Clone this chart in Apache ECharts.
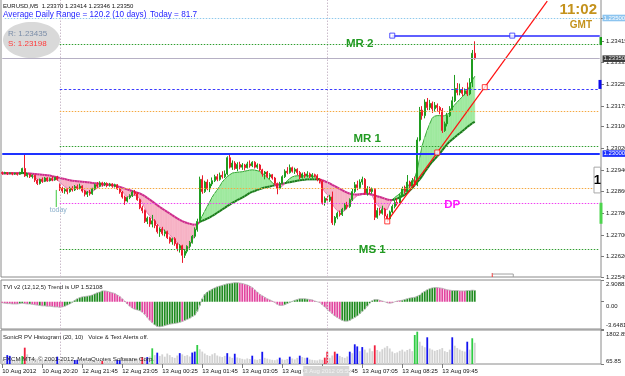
<!DOCTYPE html>
<html>
<head>
<meta charset="utf-8">
<script src="https://cdn.jsdelivr.net/npm/echarts@6/dist/echarts.min.js"></script>
<style>
html,body{margin:0;padding:0;background:#ffffff;}
#chart{width:625px;height:376px;}
</style>
</head>
<body>
<div id="chart"></div>
<script>
// ---------------- data (prices in points above 1.22000) ----------------
const barOpen = [
930,927,930,926,929,925,928,924,930,945, 918,924,915,920,902,890,905,898,910,900,
908,903,912,885,872,862,868,860,872,866, 878,873,880,862,850,858,852,870,885,880,
892,886,890,882,888,880,885,870,858,840, 825,838,845,858,852,830,800,790,750,762,
740,752,735,712,722,705,712,690,675,686, 668,650,660,625,640,658,672,695,720,750,
905,860,895,870,888,900,915,905,920,915, 925,985,950,965,945,960,950,958,948,962,
955,968,950,958,940,925,932,915,922,910, 890,872,890,915,935,930,948,935,942,930,
912,925,918,925,915,922,918,905,898,820, 835,828,840,745,765,780,775,795,810,805,
830,860,885,875,895,905,855,870,860,868, 765,790,780,795,770,760,785,805,820,815,
845,870,860,895,880,900,885,1050,1160,1140, 1190,1170,1185,1165,1178,1170,1160,1085,1110,1140,
1165,1195,1240,1225,1235,1222,1232,1220,1262,1370];
const barClose = [
927,930,926,929,925,928,924,930,945,918, 924,915,920,902,890,905,898,910,900,908,
903,912,905,872,862,868,860,872,866,878, 873,880,862,850,858,852,870,885,880,892,
886,890,882,888,880,885,870,858,840,825, 838,845,858,852,830,800,790,750,762,740,
752,735,712,722,705,712,690,675,686,668, 650,660,625,640,658,672,695,720,750,905,
860,895,870,888,900,915,905,920,915,925, 985,950,965,945,960,950,958,948,962,955,
968,950,958,940,925,932,915,922,910,890, 872,890,915,935,930,948,935,942,930,912,
925,918,925,915,922,918,905,898,820,835, 828,840,745,765,780,775,795,810,805,830,
860,885,875,895,905,855,870,860,868,765, 790,780,795,770,760,785,805,820,815,845,
870,860,895,880,900,885,1050,1160,1140,1190, 1170,1185,1165,1178,1170,1160,1085,1110,1140,1165,
1195,1240,1225,1235,1222,1232,1220,1262,1370,1350];
const barLow = [
922,924,921,924,920,922,919,922,928,914, 912,910,908,895,884,886,892,895,896,897,
898,900,900,862,855,852,850,856,860,862, 866,868,856,842,840,845,848,866,874,876,
878,880,876,878,874,875,866,852,834,811, 820,832,840,846,826,795,780,744,740,730,
728,725,705,693,698,695,685,668,664,660, 640,635,597,615,632,650,668,688,712,745,
852,855,865,858,880,895,898,900,908,910, 920,945,940,940,935,942,940,938,945,948,
950,945,944,935,915,905,910,905,904,885, 850,868,886,910,924,926,930,925,920,905,
908,910,912,910,908,912,898,890,812,808, 820,822,737,735,758,768,770,790,795,800,
825,855,865,870,885,848,845,850,852,755, 760,772,775,760,748,755,780,798,808,812,
840,852,855,872,870,878,880,1045,1125,1130, 1160,1160,1150,1155,1155,1145,1076,1080,1100,1135,
1160,1190,1215,1215,1212,1215,1212,1215,1245,1346];
const barHigh = [
934,933,932,931,931,930,930,933,948,995, 928,927,923,922,906,908,912,914,913,912,
916,915,918,890,878,874,872,878,880,884, 886,889,883,866,862,866,874,890,895,898,
896,895,894,892,891,889,888,873,862,845, 842,850,864,866,858,834,808,794,768,766,
774,758,740,728,730,720,716,694,690,692, 672,666,664,648,662,678,700,728,760,915,
920,900,905,895,912,922,925,930,935,938, 990,998,975,972,968,970,965,962,970,975,
972,972,964,962,944,936,936,928,925,914, 893,896,920,942,950,960,952,948,946,936,
930,932,935,930,928,926,924,910,902,842, 845,848,860,770,786,790,800,818,822,835,
870,895,900,905,915,910,880,878,875,872, 800,800,808,800,778,790,812,828,835,852,
878,882,921,900,910,915,1060,1172,1175,1200, 1205,1198,1192,1190,1185,1175,1168,1118,1150,1175,
1210,1290,1260,1258,1245,1240,1262,1278,1382,1414];

const maSlow = [
928,928,928,928,928,928,928,928,928,928, 927,927,926,925,924,923,922,921,920,919,
917,915,913,910,908,906,904,902,900,899, 898,897,896,895,894,893,892,891,890,889,
888,887,886,885,884,882,880,877,874,871, 868,865,862,859,856,853,849,843,837,830,
824,817,810,803,797,791,785,779,773,767, 761,756,751,747,744,741,739,738,740,748,
752,756,760,765,770,776,782,788,794,800, 806,812,818,823,828,833,838,843,849,855,
859,862,866,869,872,875,877,879,881,883, 885,887,889,891,893,894,896,898,900,902,
903,904,905,905,905,905,905,905,902,898, 894,890,885,880,875,870,865,860,856,852,
850,849,849,850,851,852,852,851,849,846, 843,840,837,834,831,829,829,831,834,838,
843,848,855,864,873,885,895,905,918,932, 945,958,970,980,990,1000,1012,1024,1035,1045,
1052,1060,1068,1075,1082,1090,1098,1105,1112,1117];
const maFast = [
925,924,925,924,925,924,924,926,930,930, 926,922,918,912,906,900,898,899,900,901,
902,904,904,895,886,878,872,870,870,871, 872,872,870,864,858,857,860,866,873,879,
882,884,885,884,883,881,878,872,862,850, 840,842,845,846,843,835,820,800,782,770,
760,750,740,730,722,716,710,700,690,681, 672,662,650,645,646,660,680,705,735,752,
770,788,805,822,840,854,866,880,895,906, 915,922,928,930,931,932,933,935,937,939,
940,939,937,934,928,920,912,902,893,885, 875,874,880,890,900,908,914,917,918,918,
918,918,918,918,918,915,912,902,878,858, 850,838,815,800,790,786,785,790,800,815,
828,838,845,847,849,850,850,848,845,825, 812,802,797,795,793,815,830,838,845,852,
862,872,882,885,890,910,940,985,1030,1060, 1087,1110,1131,1138,1140,1140,1138,1140,1145,1150,
1168,1180,1190,1200,1209,1220,1230,1250,1271,1285];

const tviValues = [
-0.15,-0.2,-0.25,-0.25,-0.3,-0.3,-0.3,-0.25,-0.2,-0.25,
-0.3,-0.3,-0.35,-0.4,-0.45,-0.5,-0.55,-0.55,-0.6,-0.6,
-0.65,-0.7,-0.7,-0.75,-0.7,-0.6,-0.45,-0.3,-0.1,0.2,
0.4,0.55,0.65,0.7,0.75,0.8,0.9,1.05,1.2,1.3,
1.45,1.45,1.4,1.3,1.2,1.1,0.9,0.7,0.4,0.1,
-0.3,-0.6,-0.85,-1.0,-1.1,-1.2,-1.4,-1.7,-2.1,-2.5,
-2.8,-3.1,-3.3,-3.35,-3.3,-3.2,-3.1,-3.0,-2.95,-2.9,
-2.85,-2.75,-2.65,-2.5,-2.35,-2.2,-2.0,-1.8,-1.3,-0.5,
0.4,1.0,1.3,1.5,1.7,1.85,2.0,2.1,2.2,2.3,
2.4,2.45,2.5,2.55,2.55,2.5,2.45,2.35,2.25,2.1,
1.9,1.6,1.3,1.0,0.8,0.6,0.4,0.25,0.1,-0.1,
-0.35,-0.5,-0.5,-0.4,-0.25,-0.1,0.05,0.2,0.3,0.4,
0.4,0.4,0.35,0.3,0.25,0.1,0.0,-0.1,-0.4,-0.7,
-1.0,-1.3,-1.6,-1.9,-2.1,-2.3,-2.5,-2.6,-2.6,-2.5,
-2.3,-2.1,-1.9,-1.6,-1.3,-1.0,-0.6,-0.2,0.15,0.3,
0.3,0.2,0.1,0.0,-0.15,-0.2,-0.15,0.0,0.1,0.15,
0.2,0.3,0.4,0.5,0.55,0.6,0.75,0.9,1.2,1.4,
1.6,1.75,1.85,1.9,1.9,1.85,1.8,1.7,1.6,1.55,
1.5,1.5,1.5,1.45,1.45,1.45,1.5,1.5,1.55,1.52108];
const tviTrend = ('PPPPPPPGGPPGPPPGPGPPPPPPP' + 'GGGGGGGGGGGGGGGG' + 'PPPPPPPPPPPPP' + 'GG' + 'PPPPP' +
  'GGGGGGGGGGG' + 'P' + 'GGGGGGGGGGGGGGGGGGGGGG' + 'PPPPPPPPPPPPPPPPPP' + 'GGGGGGGGGG' +
  'PPPPPPPPPPPPP' + 'GGGGGGGGGGGGGGG' + 'PPPPPPPPP' + 'GGGGGGGGGGGGGG' + 'PPPPPP' + 'GGG' + 'PPP' + 'GGGG').split('');

const volumes = [
300,250,520,480,300,260,280,350,475,900, 560,420,300,360,330,250,280,300,240,260,
300,280,440,250,220,200,240,210,230,270, 280,220,240,260,200,220,250,230,210,240,
220,200,230,250,210,240,270,260,300,330, 280,260,300,320,340,380,420,400,420,450,
867,520,645,480,560,440,600,520,420,380, 500,620,560,480,520,450,650,700,1036,820,
700,600,520,480,560,620,500,450,420,480, 620,440,380,590,400,360,330,300,350,320,
490,300,280,320,690,380,340,300,280,260, 300,390,300,280,320,440,350,300,380,490,
420,380,390,300,280,260,250,300,280,390, 695,380,500,695,590,480,420,380,450,695,
620,1072,965,720,930,800,650,860,720,1020, 780,700,820,900,980,860,700,620,660,740,
800,700,780,840,720,1547,1716,1205,1000,920, 1430,860,800,740,780,820,880,720,680,800,
1430,1000,880,800,740,700,1205,800,1380,1150];
const volumeKind = ('..BB....GR' + '..........' + '..B......B' + 'B.........' + 'R.....BB..' +
  '......R.B.' + 'G.B.......' + '.B....BBG.' + '..........' + 'B..B......' +
  'B...B.....' + '.B...B...B' + '..B......R' + 'R..RB....B' + '.BB.B....R' +
  '..........' + '.....GG...' + 'B.........' + 'B.....B.G.').split('');

const xTickLabels = ['10 Aug 2012','10 Aug 20:20','12 Aug 21:45','12 Aug 23:05','13 Aug 00:25','13 Aug 01:45',
  '13 Aug 03:05','13 Aug 04:25','13 Aug 05:45','13 Aug 07:05','13 Aug 08:25','13 Aug 09:45'];
const priceTicks = [1.22545,1.22620,1.22700,1.22780,1.22860,1.22940,1.23020,1.23100,1.23175,1.23255,1.23335,1.23415,1.23500];
const tviTicks = [-3.64815, 0, 2.908818];
const tviTickLabels = ['-3.64815', '0.00', '2.908818'];
const volTicks = [65.85, 1802.85];
const volTickLabels = ['65.85', '1802.85'];

// horizontal levels (prices)
const refLevel = 1.23500, bidLevel = 1.23350, resLevel = 1.23435, roundLevel = 1.23000;
const mr2Level = 1.23404, mr1Level = 1.23028, dpLevel = 1.22818, ms1Level = 1.22648;
const blueDashLevel = 1.23238, orangeHiLevel = 1.23155, orangeLoLevel = 1.22873;
// trend line anchors [bar index, price points]
const trendIdx = [154, 174, 193, 218];
const trendPts = [750, 1004, 1245, 1562];
const resAnchorIdx = [156, 204];
const daySeparators = [23, 130];

// ---------------- chart ----------------
const FF = '"Liberation Sans", Arial, sans-serif';
const SLOTS = 240;
const cats = Array.from({length: SLOTS}, (_, i) => String(i));
const px = v => Math.round((1.22 + v / 1e5) * 1e5) / 1e5;
const candleData = barOpen.map((o, i) => [px(o), px(barClose[i]), px(barLow[i]), px(barHigh[i])]);
const bandData = maFast.slice(0, -1).map((f, i) => [i, px(f), px(maSlow[i]), px(maFast[i + 1]), px(maSlow[i + 1])]);
const tviBars = tviValues.map((v, i) => ({value: v, itemStyle: {color: tviTrend[i] === 'G' ? '#218c21' : '#e2469f'}}));
const volColor = {'.': '#d2d2d2', 'B': '#1414f0', 'R': '#f0203e', 'G': '#30cc44'};
const volBars = volumes.map((v, i) => ({value: v, itemStyle: {color: volColor[volumeKind[i]]}}));

const chart = echarts.init(document.getElementById('chart'), null, {width: 625, height: 376});

const xAxisFor = (gi, withLabels) => ({
  type: 'category', gridIndex: gi, data: cats, boundaryGap: true,
  axisLine: {show: false}, splitLine: {show: false},
  axisTick: withLabels ? {show: true, alignWithLabel: true, length: 4,
      interval: (i) => i % 16 === 0 && i <= 176, lineStyle: {color: '#7a7a7a'}} : {show: false},
  axisLabel: withLabels ? {show: true, interval: (i) => i % 16 === 0 && i <= 176,
      formatter: (v, i) => xTickLabels[Math.round(i / 16)] || '',
      align: 'left', fontSize: 6, color: '#111', margin: 4, fontFamily: FF} : {show: false}
});

const dotted = [1.5, 1.5];
const hl = (p, a, b, color, type, width) => [
  {coord: [a, p], lineStyle: {color: color, type: type, width: width}},
  {coord: [b, p]}
];
const vSep = {
  symbol: ['none', 'none'], silent: true, animation: false, label: {show: false},
  lineStyle: {color: '#cbbccb', type: dotted, width: 1},
  data: daySeparators.map(d => ({xAxis: d}))
};

function renderBand(params, api) {
  const i = api.value(0);
  const f0 = api.value(1), s0 = api.value(2), f1 = api.value(3), s1 = api.value(4);
  const a = api.coord([i, f0]), b = api.coord([i + 1, f1]);
  const c = api.coord([i + 1, s1]), d = api.coord([i, s0]);
  const bear = f0 + f1 < s0 + s1;
  const fill = bear ? '#f7b3c6' : '#9fea9f';
  return {type: 'group', children: [
    {type: 'polygon', shape: {points: [a, b, c, d]}, style: {fill: fill, stroke: fill, lineWidth: 0.6}},
    {type: 'line', shape: {x1: a[0], y1: a[1], x2: b[0], y2: b[1]}, style: {stroke: bear ? '#e276b4' : '#3aa83a', lineWidth: 1}},
    {type: 'line', shape: {x1: d[0], y1: d[1], x2: c[0], y2: c[1]}, style: {stroke: bear ? '#cc2a8c' : '#1a7a1a', lineWidth: 2}}
  ]};
}

const gridBase = {left: 1, right: 24, show: true, borderColor: '#8a8a8a', borderWidth: 1,
  backgroundColor: 'transparent', containLabel: false, outerBoundsMode: 'none'};

chart.setOption({
  animation: false,
  backgroundColor: '#ffffff',
  grid: [
    Object.assign({}, gridBase, {top: -1, height: 278}),
    Object.assign({}, gridBase, {top: 280, height: 49}),
    Object.assign({}, gridBase, {top: 330, height: 34})
  ],
  xAxis: [xAxisFor(0, false), xAxisFor(1, false), xAxisFor(2, true)],
  yAxis: [
    {type: 'value', gridIndex: 0, position: 'right', min: 1.22545, max: 1.2357,
      splitLine: {show: false}, axisLine: {show: false},
      axisTick: {show: true, customValues: priceTicks, length: 3, lineStyle: {color: '#7a7a7a'}},
      axisLabel: {customValues: priceTicks, formatter: v => v.toFixed(5), fontSize: 6, color: '#222', margin: 5, fontFamily: FF}},
    {type: 'value', gridIndex: 1, position: 'right', min: tviTicks[0], max: tviTicks[2],
      splitLine: {show: false}, axisLine: {show: false},
      axisTick: {show: true, customValues: tviTicks, length: 3, lineStyle: {color: '#7a7a7a'}},
      axisLabel: {customValues: tviTicks, margin: 5, fontFamily: FF, fontSize: 6, color: '#222',
        formatter: v => {
          const k = tviTicks.findIndex(t => Math.abs(t - v) < 1e-6);
          return (k === 0 ? '{b|' : k === 1 ? '{z|' : '{t|') + tviTickLabels[k] + '}';
        },
        rich: {t: {padding: [8, 0, 0, 0], fontSize: 6, color: '#222', fontFamily: FF},
               z: {padding: [10, 0, 0, 0], fontSize: 6, color: '#222', fontFamily: FF},
               b: {padding: [0, 0, 8, 0], fontSize: 6, color: '#222', fontFamily: FF}}}},
    {type: 'value', gridIndex: 2, position: 'right', min: volTicks[0], max: volTicks[1],
      splitLine: {show: false}, axisLine: {show: false},
      axisTick: {show: true, customValues: volTicks, length: 3, lineStyle: {color: '#7a7a7a'}},
      axisLabel: {customValues: volTicks, margin: 5, fontFamily: FF, fontSize: 6, color: '#222',
        formatter: v => {
          const k = volTicks.findIndex(t => Math.abs(t - v) < 1e-6);
          return (k === 0 ? '{b|' : '{t|') + volTickLabels[k] + '}';
        },
        rich: {t: {padding: [8, 0, 0, 0], fontSize: 6, color: '#222', fontFamily: FF},
               b: {padding: [0, 0, 5, 0], fontSize: 6, color: '#222', fontFamily: FF}}}}
  ],
  series: [
    {type: 'custom', name: 'band', xAxisIndex: 0, yAxisIndex: 0, data: bandData, renderItem: renderBand,
      z: 1, silent: true, clip: true, encode: {x: 0, y: [1, 2]}},
    {type: 'candlestick', name: 'EURUSD', xAxisIndex: 0, yAxisIndex: 0, data: candleData, barWidth: 1.6, z: 3,
      itemStyle: {color: '#1f9c1f', color0: '#ec1a2c', borderColor: '#1f9c1f', borderColor0: '#ec1a2c', borderWidth: 1},
      markLine: {
        symbol: ['none', 'none'], silent: true, animation: false, label: {show: false},
        data: [
          {xAxis: daySeparators[0], lineStyle: {color: '#cbbccb', type: dotted, width: 1}},
          {xAxis: daySeparators[1], lineStyle: {color: '#cbbccb', type: dotted, width: 1}},
          hl(refLevel, 1, 239, '#8fc9ec', dotted, 1),
          hl(mr2Level, 23, 239, '#2f9e2f', dotted, 1),
          hl(bidLevel, 0, 239, '#b6b0c4', 'solid', 1),
          hl(blueDashLevel, 23, 239, '#3a3aff', [2.5, 2], 1),
          hl(orangeHiLevel, 23, 239, '#f5a840', dotted, 1),
          hl(mr1Level, 23, 239, '#2f9e2f', dotted, 1),
          hl(roundLevel, 0, 239, '#1e32ff', 'solid', 2),
          hl(orangeLoLevel, 23, 239, '#f5a840', dotted, 1),
          hl(dpLevel, 23, 239, '#f040f0', dotted, 1),
          hl(ms1Level, 23, 239, '#2f9e2f', dotted, 1),
          hl(resLevel, resAnchorIdx[0], 239, '#2a2aff', 'solid', 1.6)
        ]
      }},
    {type: 'line', name: 'trend', xAxisIndex: 0, yAxisIndex: 0, z: 4, symbol: 'none', silent: true,
      data: [[trendIdx[0], px(trendPts[0])], [trendIdx[3], px(trendPts[3])]],
      lineStyle: {color: '#ff1010', width: 1.2}},
    {type: 'scatter', name: 'trendAnchors', xAxisIndex: 0, yAxisIndex: 0, z: 5, silent: true,
      symbol: 'rect', symbolSize: 5,
      data: trendIdx.slice(0, 3).map((t, k) => [t, px(trendPts[k])]),
      itemStyle: {color: '#ffffff', borderColor: '#ff1010', borderWidth: 1}},
    {type: 'scatter', name: 'resAnchors', xAxisIndex: 0, yAxisIndex: 0, z: 5, silent: true,
      symbol: 'rect', symbolSize: 5,
      data: resAnchorIdx.map(t => [t, resLevel]),
      itemStyle: {color: '#ffffff', borderColor: '#2a2aff', borderWidth: 1}},
    {type: 'bar', name: 'TVI', xAxisIndex: 1, yAxisIndex: 1, data: tviBars, barWidth: 1.8, silent: true, markLine: vSep},
    {type: 'line', name: 'TVIline', xAxisIndex: 1, yAxisIndex: 1, data: tviValues, symbol: 'none', silent: true, z: 3,
      lineStyle: {color: '#b4b4b4', width: 0.8}},
    {type: 'bar', name: 'PV', xAxisIndex: 2, yAxisIndex: 2, data: volBars, barWidth: 1.8, silent: true, markLine: vSep}
  ]
});

// ---------------- annotations placed through the axes ----------------
const pix = (i, p) => chart.convertToPixel({gridIndex: 0}, [i, p]);
const yP = p => pix(0, p)[1];
const xI = i => pix(i, 1.23)[0];
function T(x, y, text, fill, font, align) {
  return {type: 'text', x: x, y: y, z: 100, silent: true,
    style: {text: text, fill: fill, font: font, align: align || 'left', verticalAlign: 'middle',
            textAlign: align || 'left', textVerticalAlign: 'middle'}};
}
function R(x, y, w, h, fill, stroke) {
  return {type: 'rect', z: 99, silent: true, shape: {x: x, y: y, width: w, height: h},
    style: {fill: fill || 'none', stroke: stroke || null, lineWidth: 1}};
}
function L(x1, y1, x2, y2, stroke, w) {
  return {type: 'line', z: 99, silent: true, shape: {x1: x1, y1: y1, x2: x2, y2: y2}, style: {stroke: stroke, lineWidth: w || 1}};
}
const AX = 601;
const g = [];
g.push(T(3, 6, 'EURUSD,M5  1.23370 1.23414 1.23346 1.23350', '#111', '6px ' + FF));
g.push(T(3, 14.5, 'Average Daily Range = 120.2 (10 days)', '#2424ff', '8.2px ' + FF));
g.push(T(150, 14.5, 'Today = 81.7', '#2424ff', '8.2px ' + FF));
g.push({type: 'ellipse', z: 98, silent: true, shape: {cx: 31.5, cy: 40, rx: 28.5, ry: 18}, style: {fill: '#d9d9d9'}});
g.push(T(8, 34, 'R: 1.23435', '#7b8da8', '8px ' + FF));
g.push(T(8, 43.5, 'S: 1.23198', '#ff3b3b', '8px ' + FF));
g.push(T(597, 10, '11:02', '#c4921c', 'bold 15px ' + FF, 'right'));
g.push(T(592, 25.5, 'GMT', '#c4921c', 'bold 10px ' + FF, 'right'));
g.push(T(xI(143), yP(mr2Level), 'MR 2', '#229a22', 'bold 11.5px ' + FF, 'center'));
g.push(T(xI(146), yP(mr1Level) - 7, 'MR 1', '#229a22', 'bold 11.5px ' + FF, 'center'));
g.push(T(xI(180), yP(dpLevel) + 2, 'DP', '#ff1aff', 'bold 11.5px ' + FF, 'center'));
g.push(T(xI(148), yP(ms1Level) + 1, 'MS 1', '#229a22', 'bold 11.5px ' + FF, 'center'));
// price boxes on the right axis
[[refLevel, '1.23500', '#8cc4ef', '#ffffff'], [bidLevel, '1.23350', '#3c3c3c', '#e6e6e6'], [roundLevel, '1.23000', '#1e32ff', '#ffffff']]
  .forEach(([p, t, bg, fg]) => { const y = yP(p); g.push(R(AX + 1.5, y - 3.3, 24, 6.6, bg)); g.push(T(AX + 2.5, y, t, fg, '6px ' + FF)); });
g.push(R(AX - 1.5, yP(1.23415) - 4, 2.5, 8, '#149a14'));
g.push(R(AX - 2.5, yP(1.23255) - 4.5, 3, 9, '#0a0aee'));
g.push(R(AX - 1.5, yP(1.22780) - 10.5, 3, 21, '#4cd44c'));
g.push(R(AX - 7, yP(1.22950), 6.5, yP(1.22855) - yP(1.22950), '#ffffff', '#a8a8a8'));
g.push(T(AX - 3.7, (yP(1.22950) + yP(1.22855)) / 2, '1', '#000', 'bold 13px ' + FF, 'center'));
// today marker
g.push(L(xI(22) - 1, yP(1.22866), xI(22) - 1, yP(1.22803), '#3cc83c', 1));
g.push(T(xI(23) - 1.5, yP(1.22803) + 3, 'today', '#8cb0cc', '7px ' + FF, 'center'));
// small object at the bottom of the price panel
const bx = xI(196), by = yP(1.22556);
g.push(L(bx, by - 1, bx, 277, '#ff3030', 1));
g.push(L(bx, by, bx + 21, by, '#a0a0a0', 1));
g.push(L(bx + 21, by, bx + 21, 277, '#a0a0a0', 1));
// sub-window titles and copyright
g.push(T(3, 287, 'TVI v2 (12,12,5) Trend is UP 1.52108', '#222', '6px ' + FF));
g.push(T(3, 337, 'SonicR PV Histogram (20, 10)   Voice & Text Alerts off.', '#222', '6px ' + FF));
g.push(T(3, 359, 'FXCM MT4, \u00a9 2001-2012, MetaQuotes Software Corp.', '#2a2a2a', '6.2px ' + FF));
// time box of the vertical line on the time axis
const tx = xI(daySeparators[1]);
g.push(R(tx - 24, 366, 46, 10, '#d6d6d6'));
g.push(T(tx - 1, 371, '13 Aug 2012 05:55', '#f4f4f4', '6px ' + FF, 'center'));

chart.setOption({graphic: g});
</script>
</body>
</html>
